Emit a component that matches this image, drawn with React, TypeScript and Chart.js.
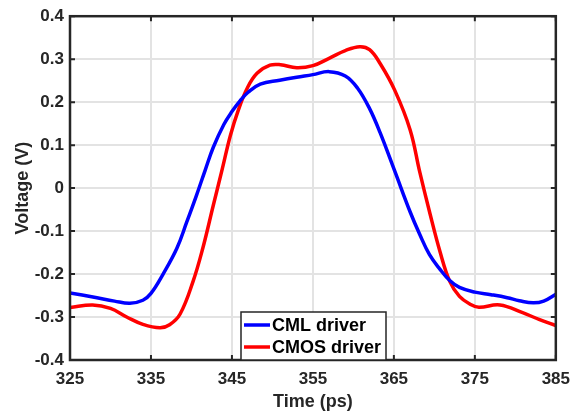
import React, { useEffect, useRef } from "react";
import { Chart, registerables } from "chart.js";
Chart.register(...registerables);

const timePsCml = [325, 328, 330.5, 332.4, 334, 335, 336.5, 338.2, 339.4, 340.6, 341.7, 342.7, 344, 345, 346, 347, 348.5, 350.9, 353, 355, 357, 359, 360.5, 362, 363.3, 365.1, 367, 368.2, 369.4, 370.7, 371.9, 373.1, 375, 377, 379, 380.5, 382.2, 383.5, 385];
const cmlDriver = [-0.244, -0.254, -0.263, -0.268, -0.261, -0.245, -0.2, -0.14, -0.08, -0.018, 0.042, 0.095, 0.148, 0.178, 0.203, 0.223, 0.242, 0.251, 0.258, 0.264, 0.271, 0.261, 0.233, 0.185, 0.129, 0.04, -0.055, -0.108, -0.155, -0.189, -0.215, -0.231, -0.242, -0.248, -0.255, -0.262, -0.267, -0.263, -0.247];

const timePsCmos = [325, 327.8, 330, 332, 334, 336.1, 337.3, 338.6, 340.2, 341.4, 342.7, 343.8, 344.8, 345.8, 346.9, 348.1, 349.7, 351, 353, 355, 357, 359, 360.8, 362, 363.3, 365.1, 367, 368.2, 369.4, 370.7, 371.9, 373.1, 374.4, 375.5, 378.1, 380.9, 383, 385];
const cmosDriver = [-0.278, -0.272, -0.28, -0.3, -0.317, -0.325, -0.318, -0.293, -0.217, -0.14, -0.04, 0.044, 0.122, 0.182, 0.233, 0.267, 0.286, 0.287, 0.28, 0.285, 0.302, 0.32, 0.329, 0.322, 0.29, 0.228, 0.136, 0.037, -0.055, -0.148, -0.217, -0.252, -0.27, -0.277, -0.272, -0.29, -0.306, -0.32];

const xTicks = [325, 335, 345, 355, 365, 375, 385];
const yTicks = [-0.4, -0.3, -0.2, -0.1, 0, 0.1, 0.2, 0.3, 0.4];
const seriesLabels = ["CML driver", "CMOS driver"];
const seriesColors = ["#0000ff", "#ff0000"];

const FONT = "'Liberation Sans', Arial, sans-serif";
const AX = "#262626";

const framePlugin = {
  id: "frame",
  afterDraw(chart: any) {
    const { ctx, chartArea: a, scales } = chart;
    const x = scales.x, y = scales.y;
    ctx.save();
    ctx.strokeStyle = AX;
    ctx.lineWidth = 2;
    const tl = 5;
    ctx.beginPath();
    xTicks.forEach((v) => {
      const px = x.getPixelForValue(v);
      ctx.moveTo(px, a.bottom); ctx.lineTo(px, a.bottom - tl);
      ctx.moveTo(px, a.top); ctx.lineTo(px, a.top + tl);
    });
    yTicks.forEach((v) => {
      const py = y.getPixelForValue(v);
      ctx.moveTo(a.left, py); ctx.lineTo(a.left + tl, py);
      ctx.moveTo(a.right, py); ctx.lineTo(a.right - tl, py);
    });
    ctx.stroke();
    ctx.lineWidth = 2.5;
    ctx.strokeRect(a.left, a.top, a.right - a.left, a.bottom - a.top);

    // legend
    const lx = 241, ly = 312, lw = 145, lh = a.bottom - 312;
    ctx.fillStyle = "#ffffff";
    ctx.fillRect(lx, ly, lw, lh);
    ctx.strokeStyle = AX;
    ctx.lineWidth = 1.5;
    ctx.strokeRect(lx, ly, lw, lh);
    ctx.font = `bold 18px ${FONT}`;
    ctx.textBaseline = "middle";
    ctx.textAlign = "left";
    chart.data.datasets.forEach((ds: any, i: number) => {
      const cy = ly + 13 + i * 22;
      ctx.strokeStyle = ds.borderColor;
      ctx.lineWidth = 3.5;
      ctx.beginPath();
      ctx.moveTo(lx + 3, cy); ctx.lineTo(lx + 29, cy);
      ctx.stroke();
      ctx.fillStyle = "#000000";
      ctx.fillText(ds.label, lx + 31, cy + 1);
    });
    ctx.restore();
  },
};

export default function App() {
  const ref = useRef<HTMLCanvasElement>(null);
  useEffect(() => {
    if (!ref.current) return;
    const chart = new Chart(ref.current, {
      type: "line",
      data: {
        datasets: [
          {
            label: seriesLabels[0],
            data: timePsCml.map((t, i) => ({ x: t, y: cmlDriver[i] })),
            borderColor: seriesColors[0],
            borderWidth: 3.5,
            pointRadius: 0,
            tension: 0.4,
            fill: false,
          },
          {
            label: seriesLabels[1],
            data: timePsCmos.map((t, i) => ({ x: t, y: cmosDriver[i] })),
            borderColor: seriesColors[1],
            borderWidth: 3.5,
            pointRadius: 0,
            tension: 0.4,
            fill: false,
          },
        ],
      },
      options: {
        responsive: false,
        animation: false,
        layout: { padding: { top: 13, right: 23, left: 0, bottom: 0 } },
        plugins: { legend: { display: false }, tooltip: { enabled: false } },
        scales: {
          x: {
            type: "linear",
            min: 325,
            max: 385,
            afterBuildTicks: (s: any) => { s.ticks = xTicks.map((v) => ({ value: v })); },
            afterFit: (s: any) => { s.height = 56; },
            grid: { color: "#e3e3e3", lineWidth: 2, drawTicks: false },
            border: { display: false },
            ticks: { color: AX, padding: 9, font: { family: FONT, size: 17, weight: "bold" } },
            title: { display: true, text: "Time (ps)", color: AX, padding: { top: 0, bottom: 3 }, font: { family: FONT, size: 18, weight: "bold" } },
          },
          y: {
            type: "linear",
            min: -0.4,
            max: 0.4,
            afterBuildTicks: (s: any) => { s.ticks = yTicks.map((v) => ({ value: v })); },
            afterFit: (s: any) => { s.width = 70; },
            grid: { color: "#e3e3e3", lineWidth: 2, drawTicks: false },
            border: { display: false },
            ticks: {
              color: AX,
              padding: 6,
              font: { family: FONT, size: 17, weight: "bold" },
              callback: (v: any) => String(Number(Number(v).toFixed(1))),
            },
            title: { display: true, text: "Voltage (V)", color: AX, padding: { top: 12, bottom: 0 }, font: { family: FONT, size: 18, weight: "bold" } },
          },
        },
      } as any,
      plugins: [framePlugin],
    });
    return () => chart.destroy();
  }, []);
  return (
    <div style={{ position: "fixed", left: 0, top: 0, width: 579, height: 416, background: "#fff" }}>
      <canvas ref={ref} width={579} height={416} style={{ display: "block" }} />
    </div>
  );
}
